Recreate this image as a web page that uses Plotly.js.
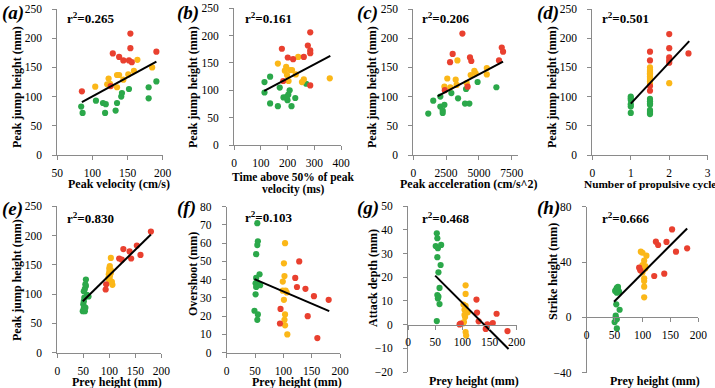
<!DOCTYPE html>
<html>
<head>
<meta charset="utf-8">
<script src="https://cdn.plot.ly/plotly-3.0.1.min.js"></script>
<style>
  html, body { margin: 0; padding: 0; background: #fff; }
  #chart { width: 715px; height: 388px; }
</style>
</head>
<body>
<div id="chart"></div>
<script>
// ---- (a) peak velocity vs peak jump height ----
const aRedX = [85, 126, 129, 138, 144, 152, 154, 154, 156, 191];
const aRedY = [109, 118, 174, 168, 162, 162, 183, 208, 159, 177];
const aYelX = [104, 123, 121, 125, 135, 138, 135, 144, 151, 159, 164, 185];
const aYelY = [117, 131, 121, 122, 137, 137, 116, 129, 138, 144, 163, 150];
const aGrnX = [84, 86, 105, 115, 119, 118, 133, 135, 141, 142, 152, 180, 180, 191];
const aGrnY = [83, 72, 93, 89, 87, 72, 76, 89, 100, 106, 113, 116, 97, 126];
const aFitX = [85, 191];
const aFitY = [90.5, 160];

// ---- (b) time above 50% of peak velocity ----
const bRedX = [285, 276, 285, 285, 179, 201, 221, 261, 184, 285];
const bRedY = [206, 182, 173, 168, 176, 160, 157, 161, 117, 109];
const bYelX = [164, 240, 195, 210, 190, 198, 231, 204, 254, 261, 358, 217];
const bYelY = [149, 161, 143, 137, 136, 128, 129, 117, 115, 120, 122, 137];
const bGrnX = [135, 114, 114, 171, 208, 203, 185, 200, 229, 135, 164, 215, 270, 197];
const bGrnY = [125, 115, 96, 105, 100, 92, 87, 82, 86, 76, 71, 71, 112, 88];
const bFitX = [113, 360];
const bFitY = [99, 163];

// ---- (c) peak acceleration ----
const cRedX = [3740, 3000, 2800, 4320, 4420, 6740, 6840, 6530, 4140, 2400];
const cRedY = [208, 173, 159, 167, 161, 184, 177, 162, 117, 111];
const cYelX = [2590, 2370, 2820, 3230, 3360, 3300, 4370, 4650, 4750, 4070, 5600, 5600];
const cYelY = [131, 117, 116, 129, 162, 120, 137, 144, 140, 123, 149, 138];
const cGrnX = [1140, 1520, 2060, 2060, 2240, 2240, 2370, 2900, 3410, 3940, 4020, 4270, 4900, 6330];
const cGrnY = [71, 93, 100, 83, 76, 72, 86, 106, 97, 88, 113, 88, 125, 116];
const cFitX = [1860, 6840];
const cFitY = [101, 160];

// ---- (d) number of propulsive cycles ----
const dRedX = [1.5, 1.5, 1.5, 1.5, 2, 2, 2, 2, 2, 2.5];
const dRedY = [177, 162, 118, 110, 207, 183, 167, 162, 158, 174];
const dYelX = [1.5, 1.5, 1.5, 1.5, 1.5, 1.5, 1.5, 1.5, 1.5, 1.5, 1.5, 2];
const dYelY = [150, 146, 142, 138, 135, 132, 129, 126, 122, 140, 144, 123];
const dGrnX = [1, 1, 1, 1, 1, 1, 1.5, 1.5, 1.5, 1.5, 1.5, 1.5, 1.5, 1.5];
const dGrnY = [100, 97, 94, 87, 83, 72, 96, 92, 88, 86, 77, 74, 72, 70];
const dFitX = [1, 2.52];
const dFitY = [88, 195];

// ---- (e) prey height vs peak jump height ----
const eRedX = [180, 153, 160, 139, 127, 119, 124, 142, 94, 93];
const eRedY = [207, 183, 167, 173, 177, 161, 159, 161, 117, 108];
const eYelX = [103, 101, 100, 100, 99, 103, 98, 101, 105, 106, 101, 103];
const eYelY = [162, 148, 144, 138, 134, 136, 127, 124, 121, 116, 130, 141];
const eGrnX = [55, 55, 53, 51, 57, 52, 51, 50, 54, 49, 53, 51, 60, 54];
const eGrnY = [125, 114, 109, 105, 99, 94, 88, 83, 77, 71, 71, 76, 96, 117];
const eFitX = [49, 180];
const eFitY = [88, 202];

// ---- (f) prey height vs overshoot ----
const fRedX = [128, 121, 124, 139, 154, 180, 95, 143, 94, 160];
const fRedY = [50, 41, 36, 35, 31, 29, 24, 20, 16, 8];
const fYelX = [103, 101, 102, 99, 99, 104, 106, 101, 103, 102, 103, 107];
const fYelY = [60, 49, 42, 39, 34, 34, 33, 29, 21, 18, 15, 10];
const fGrnX = [54, 55, 54, 52, 58, 52, 51, 55, 52, 59, 51, 49, 55, 54];
const fGrnY = [71, 61, 59, 54, 43, 41, 38, 38, 36, 37, 32, 23, 21, 18];
const fFitX = [49, 181];
const fFitY = [40.3, 22.8];

// ---- (g) prey height vs attack depth ----
const gRedX = [126, 127, 163, 130, 146, 156, 143, 95, 97, 183];
const gRedY = [10.6, 5.1, 4.6, 1.4, 0.1, 0.7, -1.8, 0.1, 0.4, -2.7];
const gYelX = [106, 106, 106, 104, 110, 104, 105, 103, 101, 102, 106, 107];
const gYelY = [16.6, 13, 7.9, 6.3, 5.2, 4.1, 3.2, 1.1, 0.5, 8.5, -3.1, -4.6];
const gGrnX = [53, 54, 51, 61, 55, 54, 60, 56, 58, 54, 56, 55, 58, 53];
const gGrnY = [38.6, 36.5, 33.2, 33.7, 32.3, 28.5, 25.2, 22.1, 15.5, 12.5, 11.8, 11.1, 8.7, 1.5];
const gFitX = [50, 185];
const gFitY = [20.7, -10.3];

// ---- (h) prey height vs strike height ----
const hRedX = [153, 124, 128, 143, 180, 160, 94, 96, 121, 139];
const hRedY = [63.6, 54.7, 52.3, 54.5, 49.9, 47.5, 35.9, 34, 29.9, 31.6];
const hYelX = [97, 100, 107, 103, 100, 105, 100, 103, 103, 103, 103, 105];
const hYelY = [47.5, 46.7, 44.6, 41, 37.8, 37.1, 32.5, 28.2, 26.3, 22.2, 14.5, 35.4];
const hGrnX = [54, 56, 52, 58, 54, 51, 53, 59, 52, 52, 50, 54, 54, 56];
const hGrnY = [21.4, 20.2, 19.8, 18.6, 17.8, 19, 9.4, 5.5, 1.2, -0.2, -3.4, -1.4, -8, 22];
const hFitX = [49, 180];
const hFitY = [11.3, 64.3];

// Labels
const panelLetters = ['(a)', '(b)', '(c)', '(d)', '(e)', '(f)', '(g)', '(h)'];
const r2Labels = ['0.265', '0.161', '0.206', '0.501', '0.830', '0.103', '0.468', '0.666'];
const xTitles = ['Peak velocity (cm/s)', 'Time above 50% of peak<br>velocity (ms)',
  'Peak acceleration (cm/s^2)', 'Number of propulsive cycles',
  'Prey height (mm)', 'Prey height (mm)', 'Prey height (mm)', 'Prey height (mm)'];
const yTitles = ['Peak jump height (mm)', 'Peak jump height (mm)', 'Peak jump height (mm)',
  'Peak jump height (mm)', 'Peak jump height (mm)', 'Overshoot (mm)',
  'Attack depth (mm)', 'Strike height (mm)'];

// ---- drawing ----
const W = 715, H = 388;
const RED = '#e9402f', YEL = '#fbb718', GRN = '#2ba84a';
const FONT = 'Liberation Serif, Times New Roman, serif';
const AXC = '#8a8a8a';

const series = [
  [aRedX, aRedY, aYelX, aYelY, aGrnX, aGrnY, aFitX, aFitY],
  [bRedX, bRedY, bYelX, bYelY, bGrnX, bGrnY, bFitX, bFitY],
  [cRedX, cRedY, cYelX, cYelY, cGrnX, cGrnY, cFitX, cFitY],
  [dRedX, dRedY, dYelX, dYelY, dGrnX, dGrnY, dFitX, dFitY],
  [eRedX, eRedY, eYelX, eYelY, eGrnX, eGrnY, eFitX, eFitY],
  [fRedX, fRedY, fYelX, fYelY, fGrnX, fGrnY, fFitX, fFitY],
  [gRedX, gRedY, gYelX, gYelY, gGrnX, gGrnY, gFitX, gFitY],
  [hRedX, hRedY, hYelX, hYelY, hGrnX, hGrnY, hFitX, hFitY]
];

// plot-area boxes in pixels and axis scales
const frames = [
  {x: [57.3, 162.7], y: [9, 155],     xr: [50, 200], xd: 50,   yr: [0, 250], yd: 50},
  {x: [234, 341],    y: [8.3, 145],   xr: [0, 400],  xd: 100,  yr: [0, 250], yd: 50},
  {x: [413.3, 518.3], y: [9, 155],    xr: [0, 8000], xd: 2500, yr: [0, 250], yd: 50},
  {x: [592.3, 707.7], y: [9, 155],    xr: [0, 3],    xd: 1,    yr: [0, 250], yd: 50},
  {x: [57.3, 161.3], y: [206.4, 352.7], xr: [0, 200], xd: 50,  yr: [0, 250], yd: 50},
  {x: [226.7, 340],  y: [206.7, 352.7], xr: [0, 200], xd: 50,  yr: [0, 80],  yd: 10},
  {x: [408, 516.7],  y: [206.3, 372],   xr: [0, 200], xd: 50,  yr: [-20, 50], yd: 10, cross: true},
  {x: [586.7, 698.3], y: [206.7, 372.7], xr: [0, 200], xd: 50, yr: [-40, 80], yd: 40, cross: true}
];

// text placements (pixels)
const letterPos = [[0, 13], [175, 13], [355, 13], [535, 13], [0, 209], [175, 208], [355, 208], [535, 208]];
const r2Pos = [[65, 18], [243, 18], [420, 18], [600, 18], [65, 217.7], [243, 217.3], [420, 217.7], [600, 217.7]];
const xtPos = [[119, 184], [292.5, 178], [469, 184], [582, 184], [116.7, 382], [296.7, 381.5], [474, 381], [655, 381]];
const xtSize = [12, 11.5, 12, 11.3, 12, 12, 12, 12];
const ytPos = [[17, 87], [193, 87], [372, 87], [552, 87], [17, 280], [193, 274], [373, 278], [553, 272]];

const px = p => p / W;
const py = p => 1 - p / H;

const data = [];
const layout = {
  width: W, height: H,
  margin: {l: 0, r: 0, t: 0, b: 0},
  paper_bgcolor: '#fff', plot_bgcolor: '#fff',
  showlegend: false,
  font: {family: FONT, color: '#000', size: 11.5},
  annotations: []
};

frames.forEach((f, i) => {
  const n = i + 1;
  const xa = 'x' + (n === 1 ? '' : n), ya = 'y' + (n === 1 ? '' : n);
  const xkey = 'xaxis' + (n === 1 ? '' : n), ykey = 'yaxis' + (n === 1 ? '' : n);
  const s = series[i];
  const groups = [[s[4], s[5], GRN], [s[2], s[3], YEL], [s[0], s[1], RED]];
  groups.forEach(g => data.push({
    type: 'scatter', mode: 'markers', x: g[0], y: g[1], xaxis: xa, yaxis: ya,
    marker: {color: g[2], size: 6.2, line: {width: 0}}, hoverinfo: 'skip'
  }));
  data.push({
    type: 'scatter', mode: 'lines', x: s[6], y: s[7], xaxis: xa, yaxis: ya,
    line: {color: '#000', width: 2}, hoverinfo: 'skip'
  });

  const yDom = [py(f.y[1]), py(f.y[0])];
  const xAxis = {
    domain: [px(f.x[0]), px(f.x[1])], range: f.xr, tick0: f.xr[0], dtick: f.xd,
    showgrid: false, zeroline: false, showline: true, linecolor: AXC, linewidth: 1,
    ticks: 'outside', ticklen: 4, tickcolor: AXC, tickwidth: 1,
    tickfont: {family: FONT, size: 11.5, color: '#000'}, ticklabelstandoff: 3,
    fixedrange: true
  };
  if (f.cross) {
    // horizontal axis crosses the vertical one at zero
    xAxis.anchor = 'free';
    xAxis.position = yDom[0] + (0 - f.yr[0]) / (f.yr[1] - f.yr[0]) * (yDom[1] - yDom[0]);
  } else {
    xAxis.anchor = ya;
  }
  layout[xkey] = xAxis;
  layout[ykey] = {
    domain: yDom, range: f.yr, tick0: f.yr[0], dtick: f.yd, anchor: xa,
    showgrid: false, zeroline: false, showline: true, linecolor: AXC, linewidth: 1,
    ticks: 'outside', ticklen: 4, tickcolor: AXC, tickwidth: 1,
    tickfont: {family: FONT, size: 11.5, color: '#000'}, ticklabelstandoff: 8,
    fixedrange: true
  };

  const ann = layout.annotations;
  ann.push({xref: 'paper', yref: 'paper', x: px(letterPos[i][0]), y: py(letterPos[i][1]),
    xanchor: 'left', yanchor: 'middle', showarrow: false,
    text: '<b><i>' + panelLetters[i] + '</i></b>', font: {family: FONT, size: 19, color: '#000'}});
  ann.push({xref: 'paper', yref: 'paper', x: px(r2Pos[i][0]), y: py(r2Pos[i][1]),
    xanchor: 'left', yanchor: 'middle', showarrow: false,
    text: '<b>r<sup>2</sup>=' + r2Labels[i] + '</b>', font: {family: FONT, size: 13, color: '#000'}});
  // x title, one annotation per line so the line spacing stays tight
  xTitles[i].split('<br>').forEach((line, k) => {
    ann.push({xref: 'paper', yref: 'paper', x: px(xtPos[i][0]), y: py(xtPos[i][1] + k * 11),
      xanchor: i === 3 ? 'left' : 'center', yanchor: 'middle', showarrow: false,
      text: '<b>' + line + '</b>', font: {family: FONT, size: xtSize[i], color: '#000'}});
  });
  ann.push({xref: 'paper', yref: 'paper', x: px(ytPos[i][0]), y: py(ytPos[i][1]),
    xanchor: 'center', yanchor: 'middle', showarrow: false, textangle: -90,
    text: '<b>' + yTitles[i] + '</b>', font: {family: FONT, size: 12, color: '#000'}});
});

Plotly.newPlot('chart', data, layout, {staticPlot: true, displayModeBar: false});
</script>
</body>
</html>
